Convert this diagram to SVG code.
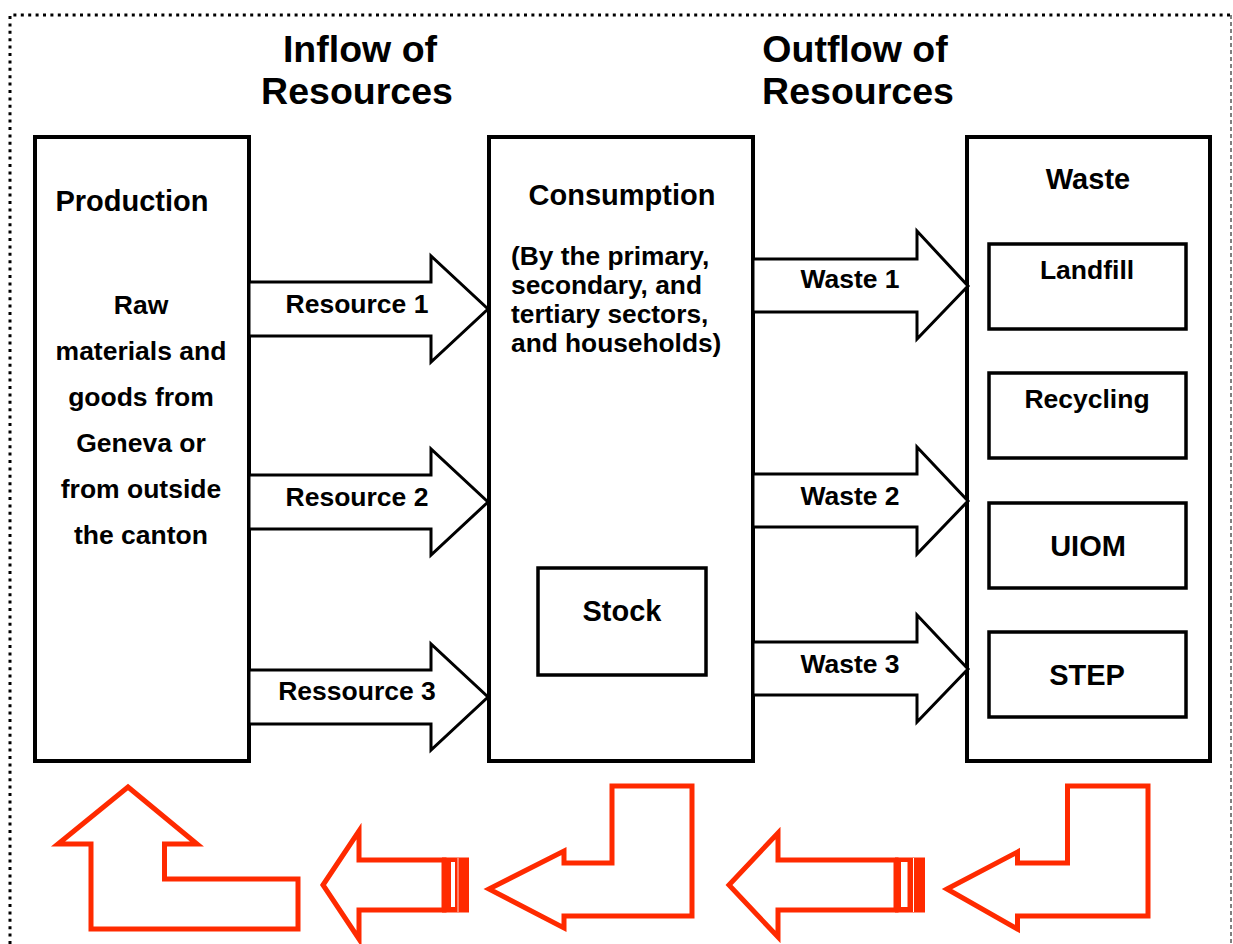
<svg xmlns="http://www.w3.org/2000/svg" width="1233" height="944" viewBox="0 0 1233 944">
<style>
text{font-family:"Liberation Sans",Arial,Helvetica,sans-serif;font-weight:bold;fill:#000}
.title{font-size:37.5px;text-anchor:middle}
.hd{font-size:29px;text-anchor:middle}
.lb{font-size:26.5px;text-anchor:middle}
.body{font-size:26.3px}
.box{fill:#fff;stroke:#000;stroke-width:4}
.ibox{fill:#fff;stroke:#000;stroke-width:3.5}
.arr{fill:#fff;stroke:#000;stroke-width:3;stroke-linejoin:miter}
.red{fill:#fff;stroke:#ff2a00;stroke-width:5;stroke-linejoin:miter}
.rfill{fill:#ff2a00}
</style>
<rect width="1233" height="944" fill="#fff"/>
<g id="frame">
<path d="M10,944 V15 H1231" fill="none" stroke="#000" stroke-width="3" stroke-dasharray="3 4.4"/>
<line x1="1231" y1="15" x2="1231" y2="944" stroke="#555" stroke-width="1.5" stroke-dasharray="4 3"/>
</g>
<g id="titles">
<text class="title" x="360" y="62">Inflow of</text>
<text class="title" x="357" y="104">Resources</text>
<text class="title" x="855" y="62">Outflow of</text>
<text class="title" x="858" y="104">Resources</text>
</g>
<g id="production">
<rect class="box" x="35" y="137" width="214" height="624"/>
<text class="hd" x="132" y="211">Production</text>
<text class="lb" x="141" y="314">Raw</text>
<text class="lb" x="141" y="360">materials and</text>
<text class="lb" x="141" y="406">goods from</text>
<text class="lb" x="141" y="452">Geneva or</text>
<text class="lb" x="141" y="498">from outside</text>
<text class="lb" x="141" y="544">the canton</text>
</g>
<g id="consumption">
<rect class="box" x="489" y="137" width="264" height="624"/>
<text class="hd" x="622" y="205">Consumption</text>
<text class="body" x="511" y="265">(By the primary,</text>
<text class="body" x="511" y="294">secondary, and</text>
<text class="body" x="511" y="323">tertiary sectors,</text>
<text class="body" x="511" y="352">and households)</text>
</g>
<g id="stock">
<rect class="ibox" x="538" y="568" width="168" height="107"/>
<text class="hd" x="622" y="621">Stock</text>
</g>
<g id="waste">
<rect class="box" x="967" y="137" width="243" height="624"/>
<text class="hd" x="1088" y="189">Waste</text>
</g>
<g id="landfill">
<rect class="ibox" x="989" y="244" width="197" height="85"/>
<text class="lb" x="1087" y="279">Landfill</text>
</g>
<g id="recycling">
<rect class="ibox" x="989" y="373" width="197" height="85"/>
<text class="lb" x="1087" y="408">Recycling</text>
</g>
<g id="uiom">
<rect class="ibox" x="989" y="503" width="197" height="85"/>
<text class="hd" x="1088" y="556">UIOM</text>
</g>
<g id="step">
<rect class="ibox" x="989" y="632" width="197" height="85"/>
<text class="hd" x="1087" y="685">STEP</text>
</g>
<g id="connectors">
<polygon class="arr" points="249,282 431,282 431,256 488,309 431,362 431,336 249,336"/>
<polygon class="arr" points="249,475 431,475 431,449 488,502 431,555 431,529 249,529"/>
<polygon class="arr" points="249,670 431,670 431,644 488,697 431,750 431,724 249,724"/>
<polygon class="arr" points="753,259 917,259 917,231 968,286 917,339 917,312 753,312"/>
<polygon class="arr" points="753,474 917,474 917,447 968,501 917,554 917,527 753,527"/>
<polygon class="arr" points="753,642 917,642 917,615 968,669 917,722 917,695 753,695"/>
<text class="lb" x="357" y="313">Resource 1</text>
<text class="lb" x="357" y="506">Resource 2</text>
<text class="lb" x="357" y="700">Ressource 3</text>
<text class="lb" x="850" y="288">Waste 1</text>
<text class="lb" x="850" y="505">Waste 2</text>
<text class="lb" x="850" y="673">Waste 3</text>
</g>
<g id="red-arrows">
<polygon class="red" points="128,787 197,844 164.5,844 164.5,879 298,879 298,929 91,929 91,844 58,844"/>
<polygon class="red" points="323,885 359,831 359,860 444,860 444,910 359,910 359,939"/>
<rect class="rfill" x="442" y="857.5" width="27" height="55"/>
<rect x="451" y="862" width="4" height="45" fill="#fff"/>
<line x1="458" y1="858" x2="458" y2="912" stroke="#fff" stroke-width="0.8"/>
<polygon class="red" points="489,889 564,851 564,863 612,863 612,786 692,786 692,916 564,916 564,928"/>
<polygon class="red" points="729,885 778,833 778,860 896,860 896,910 778,910 778,937"/>
<rect class="rfill" x="895" y="857.5" width="30" height="55"/>
<rect x="901" y="862" width="6.5" height="45" fill="#fff"/>
<line x1="913.5" y1="858" x2="913.5" y2="912" stroke="#fff" stroke-width="1"/>
<polygon class="red" points="947,889 1017.5,852 1017.5,863 1067.5,863 1067.5,786 1148,786 1148,916 1017.5,916 1017.5,929"/>
</g>
</svg>
